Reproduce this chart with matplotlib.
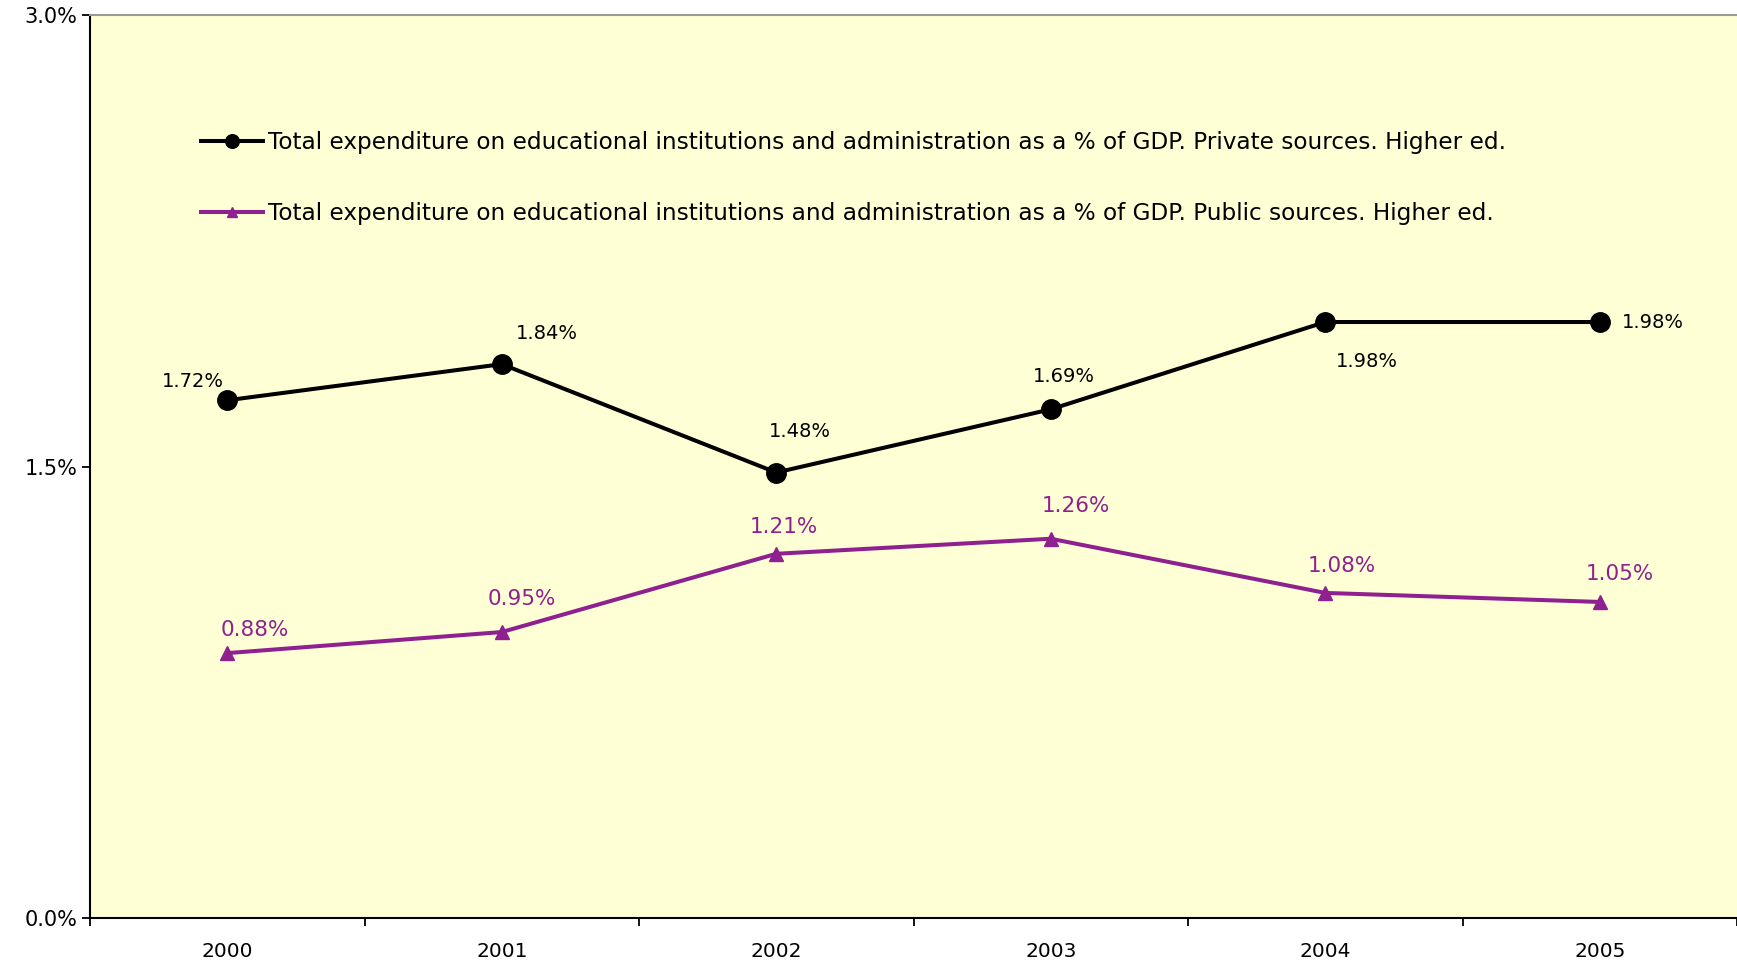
import matplotlib
matplotlib.use("Agg")
import matplotlib.pyplot as plt
from matplotlib.ticker import FixedLocator, FuncFormatter

YEARS = ["2000", "2001", "2002", "2003", "2004", "2005"]
PRIVATE = [1.72, 1.84, 1.48, 1.69, 1.98, 1.98]
PUBLIC = [0.88, 0.95, 1.21, 1.26, 1.08, 1.05]
PRIVATE_LABEL = ("Total expenditure on educational institutions and administration "
                 "as a % of GDP. Private sources. Higher ed.")
PUBLIC_LABEL = ("Total expenditure on educational institutions and administration "
                "as a % of GDP. Public sources. Higher ed.")

# label offsets in pixels (dx, dy) relative to each point
PRIV_OFF = [(-34, 19), (45, 31), (24, 41), (13, 33), (42, -39), (53, 0)]
PUB_OFF = [(28, 23), (20, 33), (8, 27), (25, 33), (17, 27), (20, 28)]

BG = "#ffffd6"
PURPLE = "#8e218f"

fig = plt.figure(figsize=(17.37, 9.63), dpi=100)
ax = fig.add_axes([90 / 1737, 1 - 918 / 963, 1 - 90 / 1737, (918 - 15) / 963])
ax.set_facecolor(BG)

x = list(range(len(YEARS)))
ax.plot(x, PRIVATE, color="black", lw=2.9, marker="o", ms=14, label=PRIVATE_LABEL)
ax.plot(x, PUBLIC, color=PURPLE, lw=2.9, marker="^", ms=10, label=PUBLIC_LABEL)

for xi, v, (dx, dy) in zip(x, PRIVATE, PRIV_OFF):
    ax.annotate(f"{v:.2f}%", (xi, v), xytext=(dx, dy), textcoords="offset pixels",
                ha="center", va="center", fontsize=14, color="black")
for xi, v, (dx, dy) in zip(x, PUBLIC, PUB_OFF):
    ax.annotate(f"{v:.2f}%", (xi, v), xytext=(dx, dy), textcoords="offset pixels",
                ha="center", va="center", fontsize=15.5, color=PURPLE)

ax.set_xlim(-0.5, len(YEARS) - 0.5)
ax.set_ylim(0, 3.0)
ax.xaxis.set_major_locator(FixedLocator([i - 0.5 for i in range(len(YEARS) + 1)]))
ax.xaxis.set_major_formatter(FuncFormatter(lambda v, p: ""))
ax.xaxis.set_minor_locator(FixedLocator(x))
ax.set_xticklabels(YEARS, minor=True)
ax.tick_params(axis="x", which="minor", length=0, pad=17, labelsize=14.5)
ax.tick_params(axis="x", which="major", length=6, width=1.3, direction="out")
ax.set_yticks([0, 1.5, 3.0])
ax.yaxis.set_major_formatter(FuncFormatter(lambda v, p: f"{v:.1f}%"))
ax.tick_params(axis="y", length=6, width=1.3, labelsize=15, pad=3)

ax.spines["left"].set_linewidth(1.5)
ax.spines["bottom"].set_linewidth(1.5)
ax.spines["top"].set_color("#999999")
ax.spines["top"].set_linewidth(1.5)
ax.spines["right"].set_visible(False)

ax.legend(loc="upper left", bbox_to_anchor=(0.055, 0.895), frameon=False,
          fontsize=16.7, handlelength=2.66, handletextpad=0.2, labelspacing=2.1,
          markerscale=0.7)

fig.savefig("out.png", dpi=100, facecolor="white")
